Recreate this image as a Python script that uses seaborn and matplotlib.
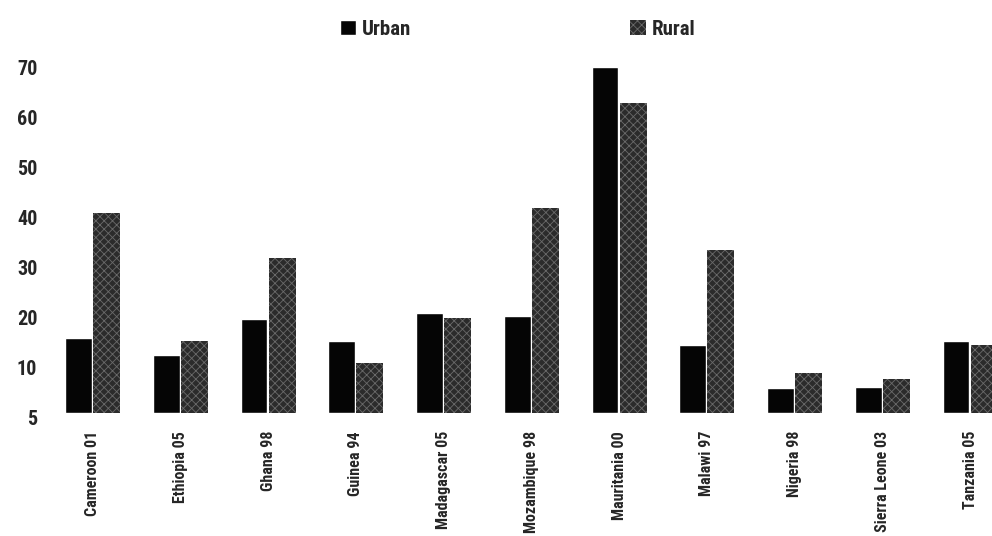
import matplotlib
matplotlib.use("Agg")
import matplotlib.pyplot as plt
from matplotlib.patches import Patch
from matplotlib import font_manager
from matplotlib.transforms import ScaledTranslation
import seaborn as sns
import pandas as pd

# Survey / country labels along the x axis
countries = ["Cameroon 01", "Ethiopia 05", "Ghana 98", "Guinea 94", "Madagascar 05",
             "Mozambique 98", "Mauritania 00", "Malawi 97", "Nigeria 98",
             "Sierra Leone 03", "Tanzania 05"]

# Percentages by area of residence
urban = [15.0, 11.5, 18.7, 14.3, 19.9, 19.4, 69.2, 13.5, 4.9, 5.1, 14.3]
rural = [40.0, 14.3, 31.0, 10.0, 18.9, 41.0, 61.9, 32.5, 7.9, 6.8, 13.5]

# Y axis ticks and their printed labels
ytick_values = [0, 10, 20, 30, 40, 50, 60, 70]
ytick_labels = ["5", "10", "20", "30", "40", "50", "60", "70"]

series_names = ["Urban", "Rural"]

df = pd.DataFrame({
    "country": countries * 2,
    "value": urban + rural,
    "area": [series_names[0]] * len(countries) + [series_names[1]] * len(countries),
})

sns.set_theme(style="white")

# Prefer a condensed bold face if one is installed
names = {f.name for f in font_manager.fontManager.ttflist}
family = ["Liberation Sans", "DejaVu Sans"]
sc = 0.88
for cand in ["Roboto Condensed", "Liberation Sans Narrow", "Open Sans Condensed",
             "Arial Narrow", "Noto Sans Condensed"]:
    if cand in names:
        family = [cand, "DejaVu Sans"]
        sc = 1.0
        break

plt.rcParams["font.family"] = family
plt.rcParams["hatch.linewidth"] = 0.6

fig = plt.figure(figsize=(9.92, 5.36), dpi=100)
ax = fig.add_axes([0.06, 0.2295, 0.94, 0.6625])

urban_color = "#050505"
rural_color = "#2b2b2b"

sns.barplot(data=df, x="country", y="value", hue="area", order=countries,
            hue_order=series_names, palette=[urban_color, rural_color],
            width=0.64, gap=0.04, saturation=1, legend=False, ax=ax)

# Texture on the rural bars
n = len(countries)
for i, bar in enumerate(ax.patches[:2 * n]):
    if i >= n:
        bar.set_hatch("xxxx")
        bar.set_edgecolor("#6a6a6a")
        bar.set_linewidth(0.0)

ax.set_xlim(-0.376, 10.25)
ax.set_ylim(0, 71)
ax.set_yticks(ytick_values)
ax.set_yticklabels(ytick_labels, fontsize=14.5 * sc, fontweight="bold")
ax.set_xticks(range(n))
ax.set_xticklabels(countries, rotation=90, fontsize=11.5 * sc, fontweight="bold")
ax.tick_params(axis="x", length=0, pad=13)
ax.tick_params(axis="y", length=0, pad=16)
for lab in ax.get_yticklabels():
    lab.set_transform(lab.get_transform() + ScaledTranslation(0, -5 / 100, fig.dpi_scale_trans))
ax.set_xlabel("")
ax.set_ylabel("")
sns.despine(ax=ax, left=True, bottom=True)
ax.grid(False)

handles = [Patch(facecolor=urban_color, label=series_names[0]),
           Patch(facecolor=rural_color, hatch="xxxx", edgecolor="#6a6a6a",
                 linewidth=0, label=series_names[1])]
leg = fig.legend(handles=handles, loc="center", bbox_to_anchor=(0.522, 0.945), ncol=2,
                 frameon=False, columnspacing=10.5, handlelength=0.75, handleheight=0.75,
                 handletextpad=0.3, prop={"weight": "bold", "size": 15 * sc})

fig.savefig("out.png", dpi=100)
